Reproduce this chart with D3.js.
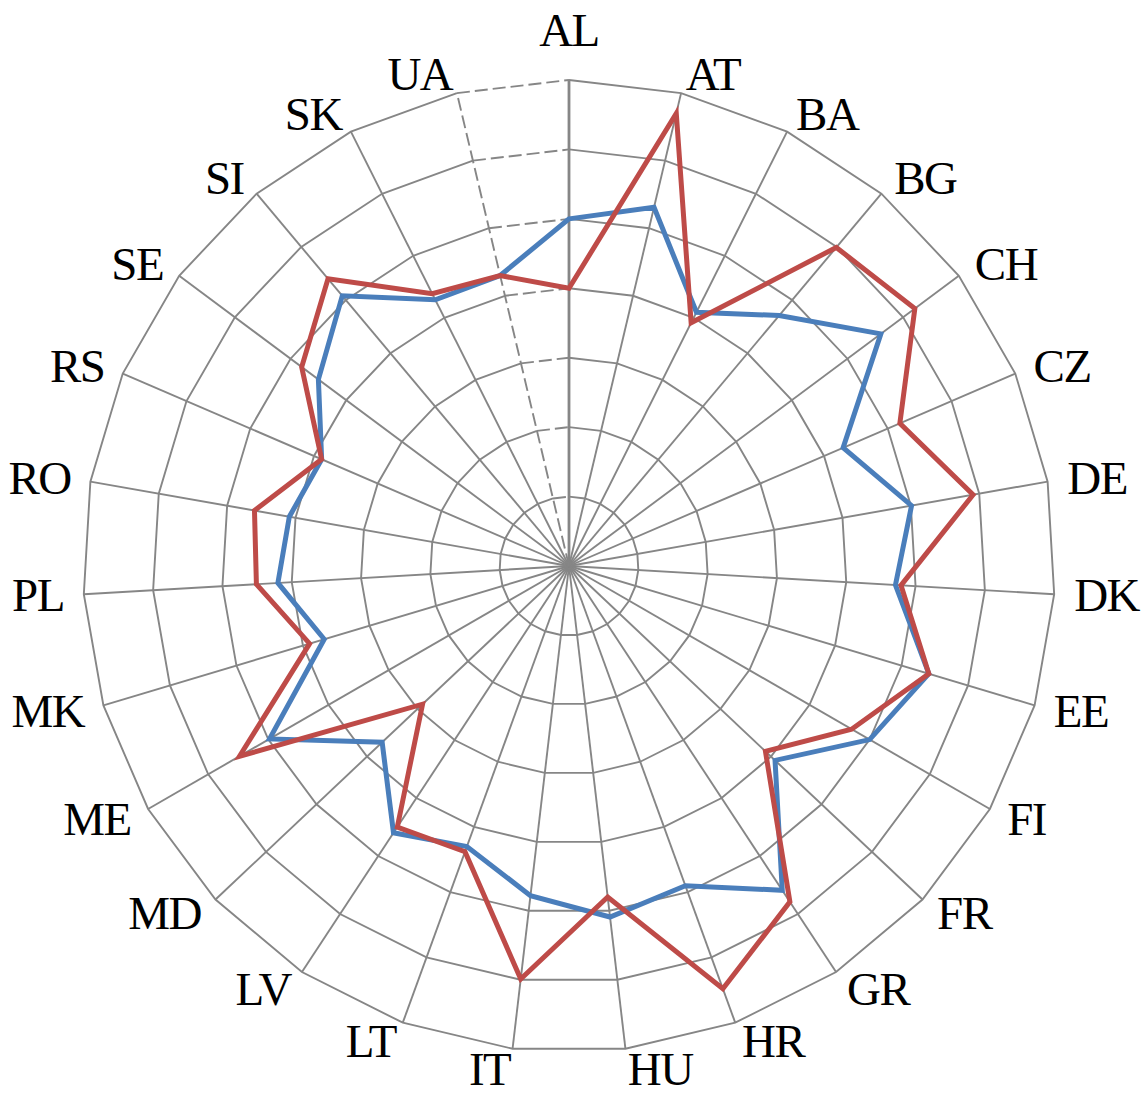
<!DOCTYPE html>
<html>
<head>
<meta charset="utf-8">
<script src="https://cdn.jsdelivr.net/npm/d3@7"></script>
<style>
  html, body { margin: 0; padding: 0; background: #ffffff; }
  svg { display: block; }
</style>
</head>
<body>
<svg id="chart" width="1143" height="1095"></svg>
<script>
// ---- data ----
const categories = ["AL","AT","BA","BG","CH","CZ","DE","DK","EE","FI","FR","GR","HR","HU",
                    "IT","LT","LV","MD","ME","MK","PL","RO","RS","SE","SI","SK","UA"];
const seriesBlue = [5.0, 5.31, 4.09, 4.71, 5.60, 4.30, 5.01, 4.71, 5.41, 5.00, 4.08, 5.59, 4.90, 5.09,
                    4.78, 4.30, 4.60, 3.70, 4.98, 3.68, 4.20, 4.09, 3.88, 4.50, 5.08, 4.29, 4.30];
const seriesRed  = [4.0, 6.70, 3.92, 5.99, 6.21, 5.19, 5.91, 4.79, 5.41, 4.70, 3.89, 5.79, 6.48, 4.80,
                    5.99, 4.38, 4.50, 2.90, 5.48, 3.90, 4.51, 4.60, 3.88, 4.80, 5.40, 4.39, 4.30];
const tickValues = [1, 2, 3, 4, 5, 6, 7];
const valueMax = 7;

// ---- layout ----
const cx = 569, cy = 566, R = 486;
const n = categories.length;
const svg = d3.select("#chart");
const g = svg.append("g").attr("transform", `translate(${cx},${cy})`);

const rScale = d3.scaleLinear().domain([0, valueMax]).range([0, R]);
const aScale = d3.scaleLinear().domain([0, n]).range([0, 2 * Math.PI]);

const gridColor = "#868686";
const gridWidth = 1.9;

// ---- rings (polygons) ----
const ringLine = d3.lineRadial()
  .angle(d => aScale(d.i))
  .radius(d => rScale(d.v));

tickValues.forEach(t => {
  const pts = categories.map((c, i) => ({ i, v: t }));
  g.append("path")
    .attr("d", ringLine(pts))
    .attr("fill", "none")
    .attr("stroke", gridColor)
    .attr("stroke-width", gridWidth);
  // closing segment UA -> AL
  g.append("path")
    .attr("d", ringLine([{ i: n - 1, v: t }, { i: n, v: t }]))
    .attr("fill", "none")
    .attr("stroke", gridColor)
    .attr("stroke-width", gridWidth)
    .attr("stroke-dasharray", "13,5");
});

// ---- spokes ----
categories.forEach((c, i) => {
  const a = aScale(i);
  const x2 = rScale(valueMax) * Math.sin(a);
  const y2 = -rScale(valueMax) * Math.cos(a);
  g.append("line")
    .attr("x1", 0).attr("y1", 0)
    .attr("x2", x2).attr("y2", y2)
    .attr("stroke", gridColor)
    .attr("stroke-width", i === 0 ? 2.8 : gridWidth)
    .attr("stroke-dasharray", i === n - 1 ? "13,5" : null);
});

// ---- series ----
const seriesLine = d3.lineRadial()
  .angle((d, i) => aScale(i))
  .radius(d => rScale(d))
  .curve(d3.curveLinearClosed);

[[seriesBlue, "#4A7EBB"], [seriesRed, "#BE4B48"]].forEach(([data, color]) => {
  g.append("path")
    .attr("d", seriesLine(data))
    .attr("fill", "none")
    .attr("stroke", color)
    .attr("stroke-width", 5)
    .attr("stroke-linejoin", "miter")
    .attr("stroke-miterlimit", 10);
});

// ---- category labels ----
const fontSize = 47;
categories.forEach((c, i) => {
  const a = aScale(i);
  const s = Math.sin(a), co = Math.cos(a);
  const tx = R * s, ty = -R * co;
  const px = tx + 20 * s, py = ty - 20 * co;
  let x, y, anchor;
  if (Math.abs(s) < 0.05) {
    anchor = "middle"; x = tx; y = ty - 34;
  } else {
    anchor = s > 0 ? "start" : "end"; x = px; y = py + 16;
  }
  g.append("text")
    .attr("x", x).attr("y", y)
    .attr("text-anchor", anchor)
    .attr("font-family", "'Liberation Serif', 'DejaVu Serif', serif")
    .attr("font-size", fontSize)
    .attr("letter-spacing", "-1.5")
    .attr("fill", "#000")
    .text(c);
});
</script>
</body>
</html>
